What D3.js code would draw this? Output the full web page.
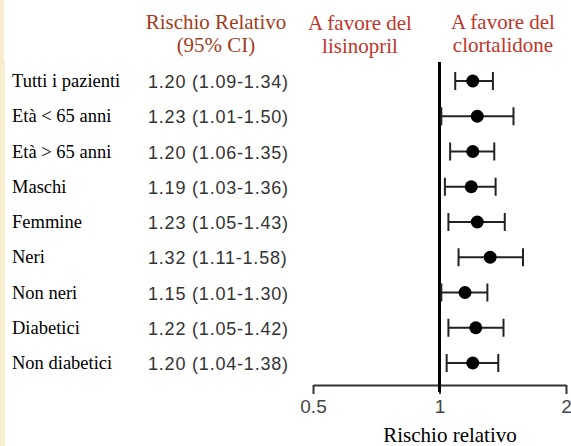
<!DOCTYPE html>
<html><head><meta charset="utf-8">
<script src="https://cdn.jsdelivr.net/npm/d3@7"></script>
<style>
html,body{margin:0;padding:0;background:#fff;}
svg{display:block;}
</style></head>
<body>
<svg id="chart" width="571" height="446"></svg>
<script>
const categories = ["Tutti i pazienti","Età < 65 anni","Età > 65 anni","Maschi","Femmine","Neri","Non neri","Diabetici","Non diabetici"];
const rr    = [1.20, 1.23, 1.20, 1.19, 1.23, 1.32, 1.15, 1.22, 1.20];
const lower = [1.09, 1.01, 1.06, 1.03, 1.05, 1.11, 1.01, 1.05, 1.04];
const upper = [1.34, 1.50, 1.35, 1.36, 1.43, 1.58, 1.30, 1.42, 1.38];
const tickValues = [0.5, 1, 2];
const tickLabels = ["0.5", "1", "2"];

const svg = d3.select("#chart");
const W = 571, H = 446;

// cream strip at left
svg.append("rect").attr("x",0).attr("y",0).attr("width",4).attr("height",61).attr("fill","#f8edcc");
svg.append("rect").attr("x",0).attr("y",61).attr("width",5).attr("height",H-61).attr("fill","#f8edcc");

const x = d3.scaleLog().domain([0.5, 2]).range([313, 566]);
const y = d3.scalePoint().domain(categories).range([81, 363]);

const serif = "'Liberation Serif','Times New Roman',Times,serif";
const sans = "'Liberation Sans',Arial,Helvetica,sans-serif";

// headers
const hdr = svg.append("g").attr("font-family", serif).attr("font-size", 21).attr("text-anchor","middle");
hdr.append("text").attr("x",216).attr("y",29).attr("fill","#a23c1c").text("Rischio Relativo");
hdr.append("text").attr("x",216).attr("y",52).attr("fill","#a23c1c").text("(95% CI)");
hdr.append("text").attr("x",360).attr("y",30).attr("fill","#c0352b").text("A favore del");
hdr.append("text").attr("x",360).attr("y",53).attr("fill","#c0352b").text("lisinopril");
hdr.append("text").attr("x",503).attr("y",29).attr("fill","#c0352b").text("A favore del");
hdr.append("text").attr("x",503).attr("y",52).attr("fill","#c0352b").text("clortalidone");

// row labels
svg.append("g").selectAll("text").data(categories).join("text")
  .attr("x", 12).attr("y", d => y(d) + 6)
  .attr("font-family", serif).attr("font-size", 18.5).attr("fill", "#000")
  .text(d => d);

// value texts
const fmt = d3.format(".2f");
svg.append("g").selectAll("text").data(categories).join("text")
  .attr("x", 148).attr("y", (d,i) => y(d) + 7)
  .attr("font-family", sans).attr("font-size", 18).attr("fill", "#333")
  .attr("letter-spacing", "0.8")
  .text((d,i) => `${fmt(rr[i])} (${fmt(lower[i])}-${fmt(upper[i])})`);

// axis
const axis = d3.axisBottom(x).tickValues(tickValues).tickSize(9).tickSizeOuter(0)
  .tickFormat((d,i) => tickLabels[i]);
const gAxis = svg.append("g").attr("transform","translate(0,385)").call(axis);
gAxis.select(".domain").attr("stroke","#333").attr("stroke-width",2);
gAxis.selectAll(".tick line").attr("stroke","#333").attr("stroke-width",2);
gAxis.selectAll(".tick text").attr("font-family", sans).attr("font-size",19).attr("fill","#444").attr("dy",0).attr("y",28);

// reference line at 1
svg.append("line").attr("x1",x(1)).attr("x2",x(1)).attr("y1",62).attr("y2",392)
  .attr("stroke","#000").attr("stroke-width",3);

// error bars
const g = svg.append("g");
const rows = g.selectAll("g.row").data(categories).join("g").attr("class","row");
rows.append("line")
  .attr("x1",(d,i)=>x(lower[i])).attr("x2",(d,i)=>x(upper[i]))
  .attr("y1",d=>y(d)).attr("y2",d=>y(d)).attr("stroke","#222").attr("stroke-width",2);
rows.append("line")
  .attr("x1",(d,i)=>x(lower[i])).attr("x2",(d,i)=>x(lower[i]))
  .attr("y1",d=>y(d)-9).attr("y2",d=>y(d)+9).attr("stroke","#222").attr("stroke-width",2);
rows.append("line")
  .attr("x1",(d,i)=>x(upper[i])).attr("x2",(d,i)=>x(upper[i]))
  .attr("y1",d=>y(d)-9).attr("y2",d=>y(d)+9).attr("stroke","#222").attr("stroke-width",2);
rows.append("circle")
  .attr("cx",(d,i)=>x(rr[i])).attr("cy",d=>y(d)).attr("r",6.5).attr("fill","#000");

// axis title
svg.append("text").attr("x",450).attr("y",442).attr("text-anchor","middle")
  .attr("font-family", serif).attr("font-size",21).attr("fill","#000").text("Rischio relativo");
</script>
</body></html>
